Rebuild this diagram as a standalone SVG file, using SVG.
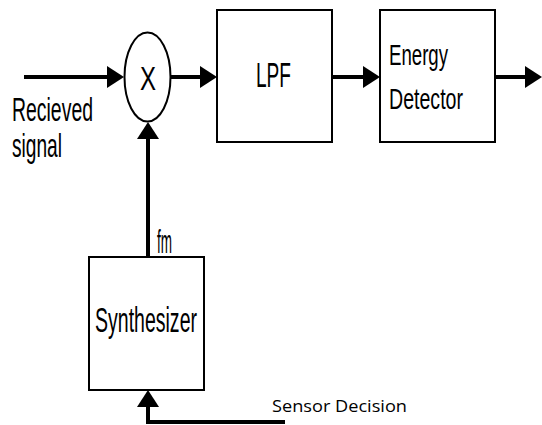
<svg xmlns="http://www.w3.org/2000/svg" width="542" height="425" viewBox="0 0 542 425">
<style>
.box{fill:#fff;stroke:#000;stroke-width:2}
.ln{fill:none;stroke:#000;stroke-width:4}
.lb{font-family:"Liberation Sans",Arial,sans-serif;font-size:33px;fill:#000}
.sd{font-family:"Open Sans","Noto Sans",sans-serif;font-size:17px;fill:#000}
</style>
<defs>
<marker id="ah" markerUnits="userSpaceOnUse" markerWidth="18" markerHeight="22" refX="0" refY="11" orient="auto" viewBox="0 0 18 22">
<path d="M0,0 L17,11 L0,22 Z" fill="#000"/>
</marker>
</defs>
<g id="connectors">
<line class="ln" x1="24" y1="77" x2="107" y2="77" marker-end="url(#ah)"/>
<line class="ln" x1="170" y1="77" x2="200" y2="77" marker-end="url(#ah)"/>
<line class="ln" x1="332" y1="77" x2="363" y2="77" marker-end="url(#ah)"/>
<line class="ln" x1="495" y1="77" x2="525" y2="77" marker-end="url(#ah)"/>
<line class="ln" x1="148" y1="257" x2="148" y2="139" marker-end="url(#ah)"/>
<polyline class="ln" points="285,422 148,422 148,407" marker-end="url(#ah)"/>
</g>
<g id="received-label">
<text class="lb" x="12" y="121" textLength="81" lengthAdjust="spacingAndGlyphs">Recieved</text>
<text class="lb" x="12" y="157" textLength="50" lengthAdjust="spacingAndGlyphs">signal</text>
</g>
<g id="mixer">
<ellipse cx="147.5" cy="77" rx="23" ry="44.5" fill="#fff" stroke="#000" stroke-width="2"/>
<text class="lb" x="140" y="90" textLength="16" lengthAdjust="spacingAndGlyphs">X</text>
</g>
<g id="lpf">
<rect class="box" x="217" y="10" width="115" height="132"/>
<text class="lb" x="256" y="87" textLength="35" lengthAdjust="spacingAndGlyphs" style="font-size:35px">LPF</text>
</g>
<g id="energy-detector">
<rect class="box" x="380" y="10" width="115" height="132"/>
<text class="lb" x="389" y="65" textLength="59" lengthAdjust="spacingAndGlyphs" style="font-size:30px">Energy</text>
<text class="lb" x="389" y="109" textLength="74" lengthAdjust="spacingAndGlyphs" style="font-size:30px">Detector</text>
</g>
<g id="fm-label">
<text class="lb" x="157" y="253" textLength="15" lengthAdjust="spacingAndGlyphs">fm</text>
</g>
<g id="synthesizer">
<rect class="box" x="89" y="257" width="115" height="133"/>
<text class="lb" x="95" y="332" textLength="102" lengthAdjust="spacingAndGlyphs" style="font-size:35px">Synthesizer</text>
</g>
<g id="sensor-label">
<text class="sd" x="272" y="412" textLength="135" lengthAdjust="spacingAndGlyphs">Sensor Decision</text>
</g>
</svg>
